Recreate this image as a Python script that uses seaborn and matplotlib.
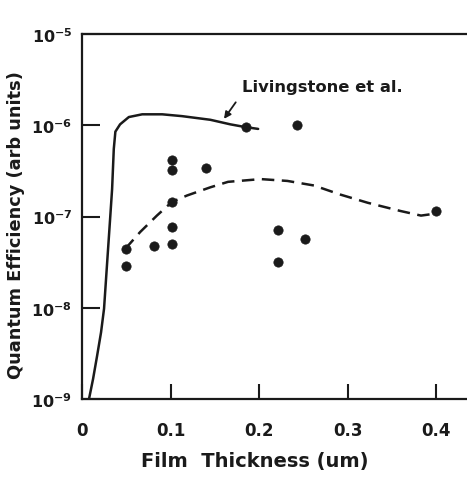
import numpy as np
import pandas as pd
import matplotlib
matplotlib.use("Agg")
import matplotlib.pyplot as plt
import seaborn as sns

# Measured data points
thickness = [0.185, 0.243, 0.102, 0.102, 0.140, 0.102, 0.102, 0.102, 0.081,
             0.050, 0.050, 0.2215, 0.2215, 0.252, 0.400]
efficiency = [9.6e-7, 1.0e-6, 4.2e-7, 3.2e-7, 3.4e-7, 1.45e-7, 7.6e-8, 5.0e-8, 4.8e-8,
              4.35e-8, 2.9e-8, 7.2e-8, 3.2e-8, 5.7e-8, 1.15e-7]

# Livingstone et al. curve (solid)
liv_x = [0.0079, 0.0125, 0.017, 0.0215, 0.0249, 0.0283, 0.032, 0.034, 0.0359,
         0.0377, 0.043, 0.0529, 0.068, 0.0906, 0.113, 0.145, 0.1676, 0.1846, 0.199]
liv_logy = [-9.0, -8.78, -8.53, -8.27, -8.01, -7.52, -6.99, -6.70, -6.26,
            -6.07, -5.99, -5.91, -5.88, -5.88, -5.90, -5.94, -5.99, -6.02, -6.04]

# Dashed trend curve
fit_x = [0.0487, 0.0657, 0.0846, 0.1016, 0.1186, 0.145, 0.165, 0.202, 0.232,
         0.262, 0.292, 0.323, 0.360, 0.383, 0.398]
fit_logy = [-7.356, -7.17, -6.99, -6.84, -6.77, -6.68, -6.62, -6.59, -6.61,
            -6.66, -6.76, -6.85, -6.94, -6.99, -6.97]

x_ticks = [0, 0.1, 0.2, 0.3, 0.4]
x_ticklabels = ["0", "0.1", "0.2", "0.3", "0.4"]
y_ticks = [1e-9, 1e-8, 1e-7, 1e-6, 1e-5]
y_ticklabels = [r"$\mathbf{10^{-9}}$", r"$\mathbf{10^{-8}}$", r"$\mathbf{10^{-7}}$",
                r"$\mathbf{10^{-6}}$", r"$\mathbf{10^{-5}}$"]

sns.set_theme(style="ticks")
plt.rcParams['font.family'] = ['DejaVu Sans']
plt.rcParams['mathtext.fontset'] = 'dejavusans'

INK = "#1a1a1a"
fig = plt.figure(figsize=(4.67, 4.81), dpi=100)
ax = fig.add_axes([0.1756, 0.1684, 0.8264, 0.7588])

liv_df = pd.DataFrame({"x": liv_x, "y": np.power(10.0, liv_logy)})
fit_df = pd.DataFrame({"x": fit_x, "y": np.power(10.0, fit_logy)})
pts_df = pd.DataFrame({"x": thickness, "y": efficiency})

sns.lineplot(data=liv_df, x="x", y="y", ax=ax, color=INK, lw=1.8,
             estimator=None, sort=False)
sns.lineplot(data=fit_df, x="x", y="y", ax=ax, color=INK, lw=1.8,
             estimator=None, sort=False)
ax.lines[-1].set_dashes([5, 3])
for ln in ax.lines:
    ln.set_solid_joinstyle("round")
    ln.set_dash_joinstyle("round")
sns.scatterplot(data=pts_df, x="x", y="y", ax=ax, color=INK, s=45,
                edgecolor=INK, linewidth=0.5, zorder=3)

ax.set_yscale("log")
ax.set_xlim(0, 0.436)
ax.set_ylim(1e-9, 1e-5)
ax.set_xticks(x_ticks)
ax.set_xticklabels(x_ticklabels, fontsize=12, fontweight="bold", color=INK)
ax.set_yticks(y_ticks)
ax.set_yticklabels(y_ticklabels, fontsize=11.5, color=INK)
ax.yaxis.set_minor_locator(matplotlib.ticker.NullLocator())
ax.tick_params(axis="x", direction="in", length=11, width=1.5, pad=16, colors=INK)
ax.tick_params(axis="y", direction="in", length=13, width=1.5, pad=7, colors=INK)

for s in ["left", "bottom", "top"]:
    ax.spines[s].set_linewidth(1.6)
    ax.spines[s].set_color(INK)
ax.spines["right"].set_visible(False)

ax.set_xlabel("Film  Thickness (um)", fontsize=14, fontweight="bold", color=INK)
ax.xaxis.set_label_coords(0.447, -0.143)
ax.set_ylabel("Quantum Efficiency (arb units)", fontsize=12.8, fontweight="bold",
              color=INK)
ax.yaxis.set_label_coords(-0.148, 0.478)

ax.annotate("", xy=(0.1586, 1.11e-6), xytext=(0.1755, 1.89e-6),
            arrowprops=dict(arrowstyle="-|>", color=INK, lw=1.3,
                            mutation_scale=10))
ax.text(0.181, 2.63e-6, "Livingstone et al.", fontsize=11.8, fontweight="bold",
        color=INK, ha="left", va="center")

fig.savefig("out.png", dpi=100)
